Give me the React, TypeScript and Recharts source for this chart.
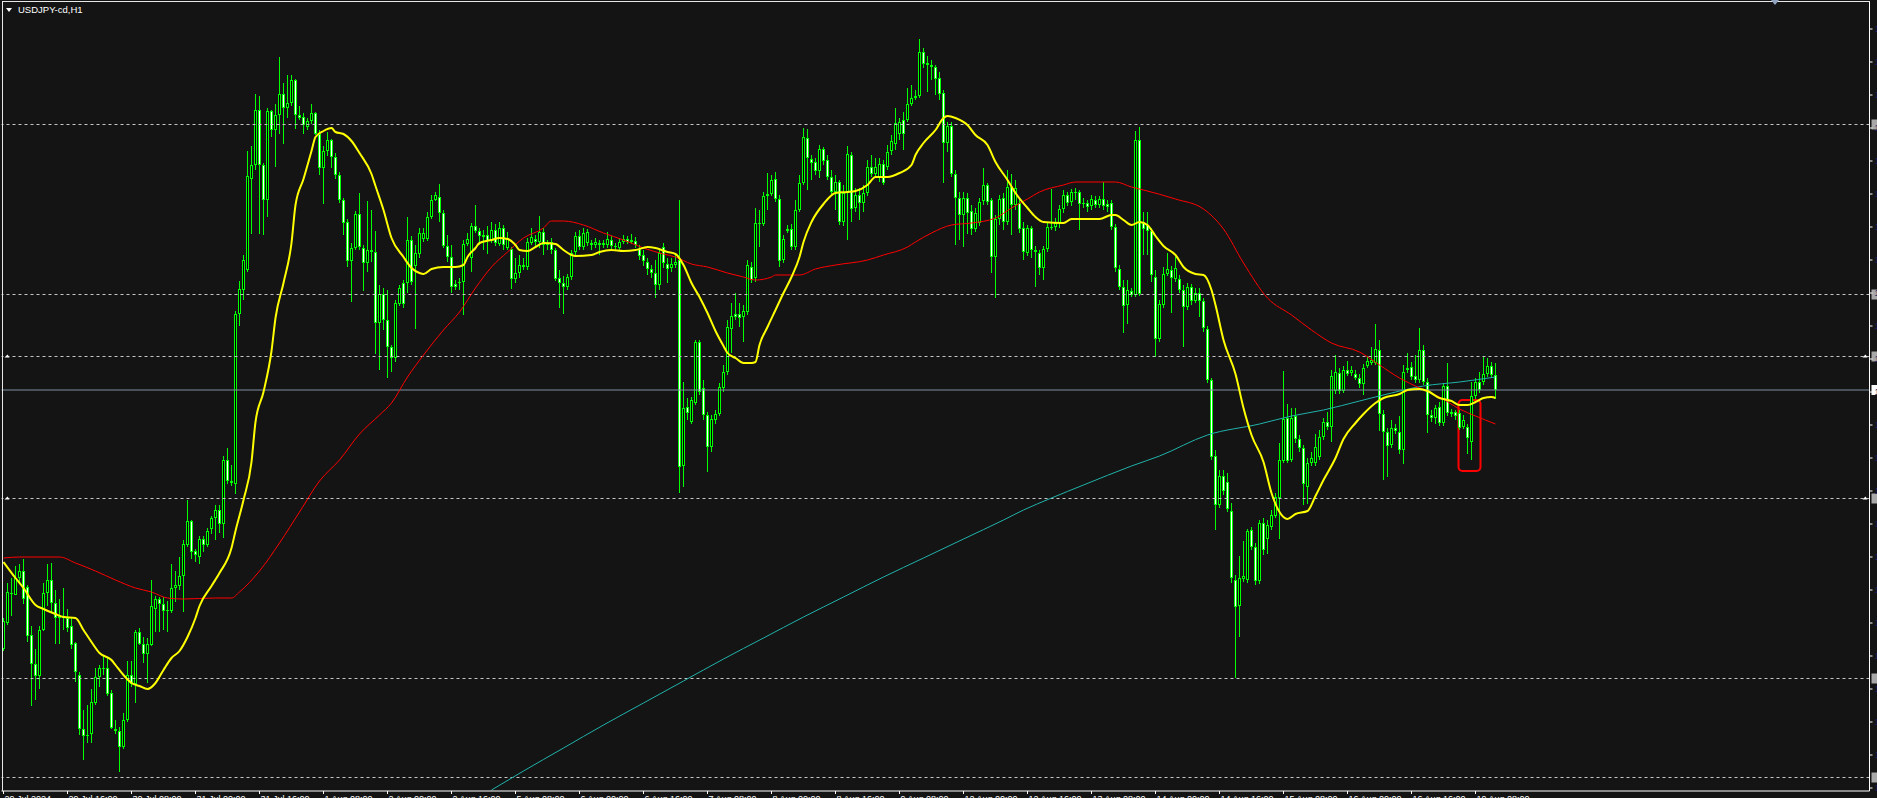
import { ComposedChart, Bar, Line, XAxis, YAxis, ReferenceLine, ReferenceArea } from 'recharts'

// USDJPY-cd H1, prices in points (1 point = 0.01 JPY)
const open = [
  14851, 14877, 14907, 14905, 14922, 14929, 14913, 14865, 14836, 14824,
  14870, 14907, 14920, 14897, 14882, 14884, 14882, 14874, 14857, 14825,
  14771, 14764, 14766, 14797, 14823, 14832, 14832, 14807, 14771, 14769,
  14753, 14780, 14825, 14816, 14868, 14856, 14846, 14855, 14891, 14901,
  14896, 14889, 14889, 14912, 14914, 14924, 14955, 14979, 14949, 14943,
  14961, 14955, 14971, 14982, 14990, 14976, 15040, 15019, 15016, 15186,
  15210, 15230, 15321, 15335, 15390, 15335, 15300, 15389, 15370, 15385,
  15406, 15392, 15397, 15420, 15385, 15383, 15373, 15379, 15387, 15366,
  15332, 15349, 15360, 15343, 15325, 15300, 15278, 15239, 15252, 15286,
  15252, 15237, 15250, 15248, 15177, 15206, 15180, 15153, 15142, 15196,
  15217, 15217, 15260, 15234, 15246, 15261, 15261, 15283, 15300, 15303,
  15287, 15254, 15243, 15216, 15217, 15218, 15256, 15242, 15274, 15269,
  15265, 15265, 15259, 15270, 15256, 15272, 15252, 15251, 15221, 15227,
  15235, 15233, 15257, 15261, 15258, 15268, 15257, 15258, 15250, 15222,
  15217, 15213, 15223, 15248, 15264, 15253, 15257, 15257, 15255, 15257,
  15257, 15255, 15260, 15254, 15252, 15258, 15261, 15258, 15259, 15251,
  15245, 15238, 15231, 15227, 15215, 15253, 15236, 15232, 15235, 15240,
  15034, 15093, 15078, 15097, 15158, 15112, 15085, 15053, 15080, 15086,
  15112, 15128, 15171, 15186, 15186, 15183, 15188, 15233, 15222, 15277,
  15276, 15304, 15306, 15321, 15301, 15240, 15269, 15271, 15253, 15290,
  15317, 15362, 15341, 15338, 15329, 15351, 15340, 15323, 15308, 15318,
  15278, 15307, 15345, 15292, 15305, 15297, 15307, 15333, 15326, 15323,
  15336, 15333, 15349, 15356, 15366, 15380, 15380, 15396, 15402, 15404,
  15448, 15437, 15435, 15433, 15422, 15407, 15357, 15374, 15326, 15302,
  15285, 15302, 15289, 15271, 15277, 15299, 15315, 15300, 15243, 15281,
  15302, 15278, 15313, 15295, 15297, 15272, 15247, 15272, 15250, 15247,
  15232, 15251, 15273, 15273, 15277, 15291, 15305, 15298, 15308, 15308,
  15297, 15297, 15294, 15300, 15295, 15301, 15296, 15297, 15273, 15231,
  15213, 15195, 15209, 15205, 15360, 15277, 15275, 15269, 15223, 15161,
  15195, 15226, 15230, 15221, 15221, 15210, 15193, 15213, 15199, 15207,
  15199, 15171, 15120, 15044, 14995, 15024, 15018, 14989, 14920, 14894,
  14921, 14920, 14970, 14953, 14919, 14977, 14961, 14973, 14984, 15002,
  15039, 15082, 15040, 15084, 15061, 15052, 15013, 15037, 15037, 15043,
  15063, 15078, 15073, 15109, 15127, 15109, 15130, 15127, 15126, 15122,
  15116, 15134, 15137, 15137, 15150, 15086, 15068, 15055, 15072, 15068,
  15050, 15132, 15133, 15124, 15120, 15150, 15118, 15085, 15082, 15093,
  15077, 15114, 15088, 15088, 15087, 15073, 15073, 15058, 15104, 15118,
  15118, 15126, 15134, 15125,
]

const high = [
  14882, 14917, 14922, 14934, 14936, 14941, 14915, 14874, 14851, 14874,
  14917, 14936, 14937, 14910, 14901, 14912, 14891, 14882, 14858, 14828,
  14790, 14795, 14811, 14832, 14835, 14844, 14843, 14810, 14780, 14773,
  14787, 14839, 14839, 14870, 14872, 14863, 14862, 14920, 14904, 14903,
  14903, 14899, 14936, 14929, 14943, 14960, 15000, 14980, 14951, 14964,
  14964, 14972, 14984, 14995, 14995, 15044, 15052, 15035, 15189, 15219,
  15245, 15349, 15354, 15406, 15404, 15337, 15392, 15390, 15396, 15443,
  15417, 15425, 15425, 15421, 15394, 15387, 15382, 15396, 15388, 15370,
  15354, 15368, 15361, 15347, 15328, 15302, 15281, 15257, 15289, 15307,
  15255, 15299, 15290, 15269, 15215, 15212, 15210, 15155, 15200, 15215,
  15220, 15283, 15264, 15255, 15272, 15272, 15288, 15305, 15308, 15316,
  15290, 15265, 15255, 15220, 15222, 15260, 15267, 15277, 15295, 15272,
  15270, 15274, 15278, 15276, 15278, 15275, 15268, 15253, 15242, 15245,
  15242, 15262, 15272, 15265, 15284, 15272, 15260, 15262, 15252, 15230,
  15224, 15226, 15250, 15268, 15270, 15272, 15271, 15260, 15262, 15260,
  15260, 15268, 15264, 15257, 15262, 15265, 15264, 15266, 15263, 15255,
  15250, 15242, 15235, 15240, 15250, 15257, 15242, 15242, 15245, 15300,
  15118, 15102, 15103, 15160, 15160, 15120, 15088, 15085, 15090, 15117,
  15135, 15180, 15197, 15207, 15197, 15195, 15240, 15238, 15292, 15290,
  15308, 15327, 15325, 15328, 15305, 15265, 15275, 15276, 15300, 15325,
  15372, 15371, 15345, 15342, 15355, 15353, 15345, 15330, 15325, 15320,
  15315, 15354, 15348, 15312, 15312, 15315, 15340, 15345, 15342, 15342,
  15340, 15355, 15365, 15392, 15382, 15388, 15412, 15415, 15410, 15461,
  15452, 15444, 15440, 15435, 15428, 15410, 15378, 15378, 15330, 15308,
  15308, 15307, 15295, 15292, 15302, 15332, 15317, 15302, 15285, 15305,
  15307, 15330, 15326, 15320, 15302, 15278, 15275, 15274, 15254, 15250,
  15254, 15278, 15311, 15282, 15295, 15310, 15308, 15311, 15312, 15310,
  15302, 15300, 15305, 15304, 15304, 15318, 15300, 15300, 15276, 15235,
  15220, 15220, 15212, 15369, 15373, 15288, 15288, 15272, 15230, 15200,
  15233, 15247, 15234, 15243, 15225, 15215, 15217, 15216, 15212, 15212,
  15202, 15174, 15122, 15050, 15030, 15030, 15027, 14997, 14925, 14944,
  14959, 14971, 14973, 14957, 14980, 14982, 14980, 14990, 15007, 15057,
  15129, 15096, 15092, 15092, 15065, 15055, 15042, 15048, 15066, 15070,
  15082, 15088, 15130, 15145, 15132, 15134, 15139, 15134, 15130, 15126,
  15136, 15144, 15153, 15176, 15160, 15090, 15072, 15080, 15076, 15084,
  15135, 15147, 15138, 15145, 15172, 15155, 15122, 15090, 15095, 15098,
  15117, 15137, 15091, 15090, 15090, 15085, 15076, 15118, 15122, 15128,
  15143, 15142, 15138, 15137,
]

const low = [
  14849, 14875, 14884, 14905, 14917, 14896, 14858, 14794, 14800, 14811,
  14869, 14894, 14888, 14856, 14856, 14870, 14868, 14851, 14818, 14765,
  14740, 14757, 14757, 14795, 14813, 14825, 14804, 14771, 14766, 14728,
  14751, 14778, 14813, 14797, 14855, 14837, 14817, 14854, 14868, 14868,
  14870, 14868, 14887, 14898, 14910, 14888, 14953, 14941, 14938, 14936,
  14948, 14953, 14966, 14960, 14967, 14962, 15016, 15014, 15006, 15174,
  15200, 15228, 15266, 15330, 15266, 15265, 15283, 15363, 15333, 15366,
  15356, 15382, 15394, 15371, 15380, 15366, 15370, 15376, 15365, 15325,
  15296, 15344, 15332, 15321, 15297, 15265, 15233, 15198, 15250, 15250,
  15209, 15228, 15238, 15146, 15130, 15170, 15122, 15128, 15138, 15194,
  15192, 15207, 15215, 15171, 15242, 15258, 15259, 15281, 15299, 15278,
  15252, 15238, 15207, 15210, 15210, 15185, 15254, 15228, 15267, 15255,
  15250, 15246, 15257, 15254, 15254, 15250, 15250, 15211, 15217, 15222,
  15230, 15230, 15255, 15252, 15252, 15245, 15250, 15246, 15219, 15192,
  15186, 15210, 15220, 15245, 15250, 15250, 15254, 15250, 15252, 15245,
  15252, 15252, 15250, 15250, 15250, 15256, 15256, 15256, 15252, 15240,
  15234, 15225, 15222, 15202, 15210, 15232, 15217, 15228, 15232, 15007,
  15013, 15080, 15076, 15095, 15105, 15080, 15028, 15048, 15076, 15084,
  15108, 15125, 15147, 15180, 15173, 15158, 15185, 15217, 15218, 15253,
  15274, 15290, 15304, 15298, 15233, 15237, 15267, 15250, 15250, 15288,
  15315, 15310, 15320, 15325, 15322, 15335, 15320, 15305, 15290, 15275,
  15274, 15260, 15278, 15288, 15280, 15288, 15304, 15323, 15324, 15318,
  15315, 15330, 15345, 15350, 15360, 15350, 15378, 15394, 15400, 15402,
  15432, 15408, 15420, 15405, 15400, 15317, 15348, 15323, 15255, 15260,
  15253, 15266, 15265, 15268, 15274, 15295, 15295, 15227, 15202, 15275,
  15270, 15275, 15265, 15290, 15267, 15240, 15244, 15242, 15213, 15225,
  15220, 15248, 15270, 15269, 15272, 15287, 15294, 15294, 15300, 15270,
  15292, 15288, 15290, 15292, 15292, 15290, 15288, 15270, 15228, 15210,
  15167, 15176, 15203, 15203, 15204, 15245, 15245, 15218, 15143, 15158,
  15192, 15224, 15187, 15218, 15207, 15153, 15190, 15195, 15197, 15183,
  15168, 15117, 15040, 14970, 14992, 15005, 14988, 14917, 14822, 14863,
  14918, 14917, 14950, 14915, 14916, 14945, 14946, 14970, 14982, 14961,
  15037, 15037, 15038, 15057, 15048, 14995, 14996, 15034, 15034, 15040,
  15060, 15070, 15058, 15106, 15106, 15107, 15124, 15124, 15120, 15112,
  15105, 15132, 15135, 15135, 15069, 15020, 15023, 15052, 15066, 15046,
  15036, 15127, 15120, 15117, 15117, 15115, 15067, 15078, 15076, 15074,
  15074, 15084, 15083, 15080, 15070, 15071, 15046, 15040, 15101, 15107,
  15115, 15123, 15122, 15101,
]

const close = [
  14879, 14908, 14906, 14922, 14929, 14901, 14864, 14836, 14824, 14870,
  14907, 14920, 14897, 14882, 14884, 14882, 14872, 14855, 14828, 14771,
  14764, 14765, 14798, 14823, 14832, 14831, 14806, 14772, 14769, 14753,
  14780, 14825, 14816, 14868, 14856, 14846, 14856, 14894, 14901, 14896,
  14889, 14890, 14912, 14915, 14924, 14956, 14979, 14948, 14945, 14961,
  14955, 14969, 14982, 14990, 14976, 15040, 15019, 15017, 15186, 15211,
  15240, 15324, 15335, 15390, 15335, 15300, 15389, 15370, 15385, 15406,
  15392, 15397, 15420, 15385, 15382, 15375, 15379, 15387, 15366, 15332,
  15349, 15360, 15343, 15325, 15300, 15277, 15239, 15252, 15286, 15253,
  15237, 15250, 15248, 15177, 15206, 15180, 15153, 15142, 15197, 15212,
  15196, 15260, 15218, 15247, 15267, 15267, 15283, 15300, 15305, 15287,
  15254, 15243, 15213, 15213, 15218, 15256, 15261, 15274, 15269, 15264,
  15263, 15259, 15270, 15257, 15272, 15255, 15262, 15221, 15227, 15235,
  15233, 15258, 15263, 15258, 15268, 15255, 15255, 15250, 15221, 15217,
  15213, 15223, 15247, 15264, 15253, 15267, 15268, 15255, 15258, 15255,
  15255, 15261, 15254, 15253, 15258, 15261, 15258, 15260, 15255, 15244,
  15239, 15231, 15227, 15215, 15247, 15237, 15231, 15236, 15238, 15033,
  15092, 15087, 15100, 15158, 15108, 15085, 15053, 15081, 15086, 15113,
  15128, 15173, 15184, 15183, 15182, 15189, 15235, 15220, 15277, 15276,
  15304, 15306, 15320, 15301, 15239, 15261, 15271, 15253, 15290, 15317,
  15363, 15342, 15337, 15329, 15351, 15339, 15323, 15308, 15318, 15278,
  15307, 15346, 15291, 15305, 15297, 15307, 15333, 15326, 15333, 15336,
  15317, 15348, 15359, 15377, 15378, 15366, 15396, 15402, 15404, 15448,
  15436, 15435, 15433, 15421, 15406, 15357, 15374, 15326, 15302, 15285,
  15302, 15287, 15271, 15287, 15298, 15315, 15298, 15243, 15281, 15301,
  15278, 15313, 15295, 15312, 15271, 15248, 15272, 15250, 15248, 15232,
  15251, 15273, 15272, 15277, 15291, 15305, 15297, 15308, 15307, 15296,
  15296, 15293, 15301, 15295, 15301, 15294, 15293, 15273, 15232, 15213,
  15194, 15210, 15205, 15360, 15206, 15271, 15269, 15225, 15161, 15196,
  15226, 15231, 15222, 15232, 15210, 15193, 15213, 15199, 15207, 15199,
  15172, 15120, 15043, 14995, 15024, 15009, 14991, 14922, 14893, 14922,
  14924, 14969, 14953, 14919, 14977, 14950, 14975, 14985, 15003, 15040,
  15081, 15039, 15082, 15061, 15052, 15016, 15037, 15042, 15053, 15063,
  15078, 15073, 15124, 15128, 15109, 15130, 15126, 15130, 15122, 15116,
  15132, 15139, 15140, 15151, 15086, 15068, 15054, 15072, 15069, 15050,
  15128, 15130, 15123, 15120, 15150, 15118, 15085, 15082, 15092, 15077,
  15114, 15087, 15086, 15084, 15072, 15080, 15062, 15104, 15118, 15110,
  15126, 15134, 15125, 15110,
]

// moving averages, read at sampled bars: [bar, value]
const maFast: [number, number][] = [
  [0, 14938], [3, 14922], [5, 14912], [8, 14895], [10, 14891], [13, 14886], [15, 14883], [18, 14882],
  [20, 14870], [22, 14858], [24, 14847], [27, 14840], [28, 14835], [30, 14825], [32, 14817], [34, 14814],
  [36, 14811], [38, 14817], [40, 14830], [42, 14842], [44, 14849], [46, 14863], [48, 14882], [49, 14894],
  [52, 14914], [54, 14927], [57, 14952], [58, 14969], [60, 15000], [62, 15038], [63, 15078], [65, 15108],
  [67, 15149], [68, 15182], [70, 15217], [72, 15257], [73, 15295], [75, 15321], [77, 15349], [78, 15363],
  [80, 15369], [82, 15372], [83, 15368], [85, 15366], [87, 15359], [89, 15347], [92, 15326], [93, 15314],
  [95, 15290], [97, 15262], [100, 15243], [102, 15232], [104, 15227], [105, 15226], [107, 15231], [110, 15233],
  [113, 15233], [115, 15235], [116, 15243], [118, 15252], [119, 15257], [122, 15260], [124, 15262], [126, 15261],
  [128, 15255], [129, 15250], [131, 15249], [133, 15253], [135, 15257], [138, 15256], [140, 15250], [142, 15245],
  [143, 15244], [147, 15245], [149, 15248], [152, 15250], [155, 15249], [158, 15250], [161, 15253], [163, 15252],
  [166, 15248], [168, 15246], [170, 15235], [172, 15217], [174, 15203], [176, 15187], [178, 15169], [180, 15154],
  [181, 15147], [183, 15142], [185, 15137], [187, 15137], [188, 15138], [189, 15155], [191, 15173], [193, 15190],
  [195, 15207], [197, 15223], [199, 15243], [200, 15258], [202, 15278], [205, 15296], [208, 15307], [211, 15308],
  [213, 15309], [216, 15315], [218, 15323], [221, 15323], [224, 15327], [227, 15335], [228, 15345], [230, 15357],
  [233, 15370], [235, 15382], [236, 15384], [238, 15382], [241, 15375], [243, 15365], [246, 15355], [248, 15338],
  [251, 15320], [253, 15307], [256, 15292], [258, 15283], [260, 15278], [265, 15277], [267, 15281], [270, 15281],
  [274, 15281], [277, 15285], [278, 15285], [280, 15280], [282, 15275], [284, 15278], [286, 15275], [288, 15264],
  [290, 15254], [293, 15245], [295, 15233], [298, 15226], [300, 15225], [302, 15210], [303, 15195], [305, 15160],
  [308, 15126], [310, 15092], [312, 15065], [315, 15038], [317, 15007], [319, 14988], [321, 14981], [323, 14986],
  [326, 14989], [328, 15004], [330, 15020], [333, 15042], [335, 15061], [338, 15077], [340, 15086], [343, 15097],
  [345, 15102], [349, 15106], [351, 15110], [354, 15111], [356, 15109], [359, 15102], [362, 15099], [364, 15095],
  [366, 15095], [368, 15098], [370, 15102], [372, 15103], [373, 15102],
]

const maMid: [number, number][] = [
  [0, 14942], [4, 14943], [14, 14943], [18, 14937], [23, 14929], [28, 14920], [33, 14912], [37, 14908],
  [41, 14902], [45, 14901], [53, 14902], [57, 14902], [59, 14908], [64, 14929], [69, 14957], [74, 14988],
  [79, 15019], [84, 15040], [89, 15066], [94, 15085], [97, 15097], [101, 15123], [105, 15145], [110, 15170],
  [114, 15188], [118, 15212], [122, 15233], [126, 15248], [130, 15262], [135, 15272], [137, 15279], [140, 15279],
  [145, 15275], [150, 15267], [155, 15260], [160, 15252], [165, 15246], [168, 15243], [172, 15236], [176, 15233],
  [181, 15227], [185, 15223], [188, 15220], [192, 15223], [193, 15225], [199, 15225], [203, 15231], [208, 15235],
  [216, 15240], [220, 15245], [226, 15253], [228, 15258], [232, 15267], [237, 15275], [242, 15277], [248, 15282],
  [252, 15292], [256, 15301], [259, 15308], [265, 15315], [268, 15318], [278, 15318], [282, 15313], [285, 15310],
  [293, 15301], [300, 15291], [305, 15271], [310, 15237], [316, 15202], [322, 15185], [327, 15170], [332, 15157],
  [339, 15148], [344, 15135], [349, 15122], [354, 15112], [359, 15103], [364, 15091], [368, 15084], [373, 15076],
]

const maSlow: [number, number][] = [
  [122, 14710], [130, 14729], [140, 14752], [150, 14775], [160, 14797], [170, 14819], [180, 14841], [190, 14862],
  [200, 14883], [210, 14903], [220, 14923], [230, 14942], [240, 14961], [250, 14980], [255, 14990], [262, 15002],
  [270, 15015], [282, 15034], [289, 15044], [301, 15065], [314, 15076], [322, 15084], [330, 15090], [339, 15099],
  [347, 15107], [355, 15114], [364, 15118], [373, 15123],
]

// user drawn horizontal levels and the bid
const levels = [15375.5, 15205.5, 15143.5, 15001.5, 14821.5, 14722.5]
const markedLevels = [15143.5, 15001.5]
const bid = 15110

const priceTicks = [
  15471, 15438, 15405, 15372, 15339, 15306, 15273, 15240, 15207, 15174, 15141, 15108,
  15075, 15042, 15009, 14976, 14943, 14910, 14877, 14844, 14811, 14778, 14745, 14712,
]

const timeLabels = [
  '29 Jul 2024', '29 Jul 16:00', '30 Jul 08:00', '31 Jul 00:00', '31 Jul 16:00', '1 Aug 08:00',
  '2 Aug 00:00', '2 Aug 16:00', '5 Aug 08:00', '6 Aug 00:00', '6 Aug 16:00', '7 Aug 08:00',
  '8 Aug 00:00', '8 Aug 16:00', '9 Aug 08:00', '12 Aug 00:00', '12 Aug 16:00', '13 Aug 08:00',
  '14 Aug 00:00', '14 Aug 16:00', '15 Aug 08:00', '16 Aug 00:00', '16 Aug 16:00', '19 Aug 08:00',
]

const SLOTS = 467
const TICK_STEP = 16

interface Row {
  t: number
  o?: number
  h?: number
  l?: number
  c?: number
  range?: [number, number]
  fast?: number
  mid?: number
  slow?: number
}

const rows: Row[] = Array.from({ length: SLOTS }, (_, i) => {
  const r: Row = { t: i }
  if (i < open.length) {
    r.o = open[i]
    r.h = high[i]
    r.l = low[i]
    r.c = close[i]
    r.range = [low[i], high[i]]
  }
  return r
})
maFast.forEach(([i, v]) => (rows[i].fast = v))
maMid.forEach(([i, v]) => (rows[i].mid = v))
maSlow.forEach(([i, v]) => (rows[i].slow = v))

const tickIdx = timeLabels.map((_, k) => k * TICK_STEP)

const Candle = (props: any) => {
  const { x, y, width, height, payload } = props
  if (!payload || payload.o == null) return null
  const top = Math.min(y, y + height)
  const h = Math.abs(height)
  const span = payload.h - payload.l
  const k = span > 0 ? h / span : 0
  const yO = top + (payload.h - payload.o) * k
  const yC = top + (payload.h - payload.c) * k
  const left = Math.round(x + width / 2 - 1.5)
  const wTop = Math.round(top)
  const wBot = Math.max(wTop + 1, Math.round(top + h))
  const bTop = Math.round(Math.min(yO, yC))
  const bBot = Math.max(bTop + 1, Math.round(Math.max(yO, yC)))
  const bull = payload.c > payload.o
  return (
    <g>
      <rect x={left + 1} y={wTop} width={1} height={wBot - wTop} fill="#00ff00" />
      <rect x={left} y={bTop} width={3} height={bBot - bTop} fill="#00ff00" />
      {bBot - bTop > 2 && (
        <rect x={left + 1} y={bTop + 1} width={1} height={bBot - bTop - 2} fill={bull ? '#000000' : '#ffffff'} />
      )}
    </g>
  )
}

const TimeTick = ({ x, y, payload }: any) => (
  <text x={x + 1} y={y + 6} fill="#ffffff" fontSize={9} fontFamily="Liberation Sans, sans-serif" textAnchor="start">
    {timeLabels[payload.value / TICK_STEP]}
  </text>
)

const PriceTick = ({ x, y, payload }: any) => (
  <text x={x} y={y + 3} fill="#1c1c66" fontSize={9} fontFamily="Liberation Sans, sans-serif" textAnchor="start">
    {(payload.value / 100).toFixed(3)}
  </text>
)

const LevelTag = ({ viewBox, fill, marked }: any) => {
  if (!viewBox) return null
  const right = viewBox.x + viewBox.width
  return (
    <g>
      <rect x={right + 2} y={viewBox.y - 5} width={8} height={10} fill={fill} />
      {marked && (
        <>
          <polygon points={`${viewBox.x + 3},${viewBox.y + 1} ${viewBox.x + 6},${viewBox.y - 2} ${viewBox.x + 8},${viewBox.y + 1}`} fill="#ffffff" />
          <polygon points={`${right - 7},${viewBox.y + 1} ${right - 4},${viewBox.y - 2} ${right - 2},${viewBox.y + 1}`} fill="#ffffff" />
        </>
      )}
    </g>
  )
}

const RoundBox = (props: any) => {
  const { x, y, width, height } = props
  return <rect x={x + 1} y={y} width={width - 2} height={height} rx={4} ry={4} fill="none" stroke="#ff0000" strokeWidth={2} />
}

export default function App() {
  return (
    <div style={{ position: 'relative', width: 1877, height: 798, background: '#141414', overflow: 'hidden' }}>
      <style>{'body{margin:0;background:#141414}'}</style>
      <ComposedChart
        width={1877}
        height={798}
        data={rows}
        margin={{ top: 2, right: 0, bottom: 0, left: 1.5 }}
        barCategoryGap={0}
        barGap={0}
      >
        <XAxis
          dataKey="t"
          type="category"
          ticks={tickIdx}
          interval={0}
          height={7}
          tickSize={3}
          axisLine={{ stroke: '#ffffff' }}
          tickLine={{ stroke: '#ffffff' }}
          tick={<TimeTick />}
        />
        <YAxis
          orientation="right"
          type="number"
          width={7.5}
          domain={[14709, 15498]}
          allowDataOverflow
          ticks={priceTicks}
          interval={0}
          tickSize={3}
          axisLine={{ stroke: '#ffffff' }}
          tickLine={{ stroke: '#ffffff' }}
          tick={<PriceTick />}
        />
        {levels.map((v) => (
          <ReferenceLine
            key={v}
            y={v}
            stroke="#c4c4c4"
            strokeDasharray="3 3"
            label={<LevelTag fill="#a8a8a8" marked={markedLevels.includes(v)} />}
          />
        ))}
        <ReferenceLine y={bid} stroke="#7f8fa0" label={<LevelTag fill="#ffffff" />} />
        <Line dataKey="slow" type="monotone" stroke="#20b2aa" strokeWidth={1} dot={false} activeDot={false} connectNulls isAnimationActive={false} />
        <Line dataKey="mid" type="monotone" stroke="#ff0000" strokeWidth={1} dot={false} activeDot={false} connectNulls isAnimationActive={false} />
        <Bar dataKey="range" shape={<Candle />} isAnimationActive={false} />
        <Line dataKey="fast" type="monotone" stroke="#ffff00" strokeWidth={2} dot={false} activeDot={false} connectNulls isAnimationActive={false} />
        <ReferenceArea x1={364} x2={369} y1={15029} y2={15100} shape={<RoundBox />} ifOverflow="visible" />
      </ComposedChart>
      <div style={{ position: 'absolute', left: 2, top: 1, width: 1, height: 790, background: '#e8e8e8' }} />
      <div style={{ position: 'absolute', left: 2, top: 1, width: 1868, height: 1, background: '#e8e8e8' }} />
      <div style={{ position: 'absolute', left: 6, top: 8, width: 0, height: 0, borderLeft: '3px solid transparent', borderRight: '3px solid transparent', borderTop: '4px solid #ffffff' }} />
      <div style={{ position: 'absolute', left: 18, top: 4, color: '#ffffff', font: '9.5px "Liberation Sans", sans-serif', whiteSpace: 'nowrap' }}>
        USDJPY-cd,H1
      </div>
      <div style={{ position: 'absolute', left: 1771, top: 0, width: 0, height: 0, borderLeft: '4px solid transparent', borderRight: '4px solid transparent', borderTop: '5px solid #8fa3bf' }} />
    </div>
  )
}
